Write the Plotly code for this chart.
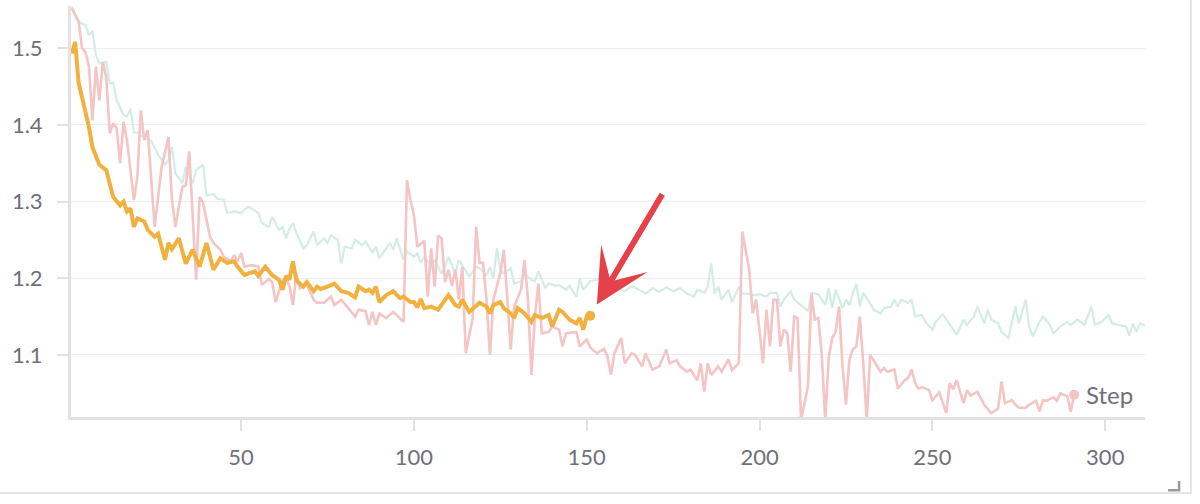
import plotly.graph_objects as go

# ---------------- data ----------------
teal_steps = [1,3,5,6,7,8,9,11,12,13,14,16,17,18,19,20,22,24,26,28,29,30,31,33,34,36,37,39,40,42,43,45,46,48,50,
              52,53,55,56,58,59,60,61,62,63,64,65,66,68,69,71,72,74,75,76,78,79,80,82,83,85,86,88,89,90,92,93,94,95,97,98,
              100,101,102,103,105,106,108,109,110,112,113,115,116,118,119,121,122,123,124,125,126,128,129,131,132,134,135,136,
              138,139,141,142,144,145,147,148,149,151,153,155,157,159,161,163,165,167,169,171,173,175,177,179,181,182,184,185,
              186,187,188,189,191,192,194,195,196,198,200,202,203,205,206,207,209,210,212,214,215,217,218,219,220,221,222,224,
              225,226,227,228,229,230,232,233,235,236,238,239,240,241,243,244,245,247,248,250,251,253,255,257,259,260,262,263,
              265,266,267,269,270,272,274,275,277,278,279,281,282,284,285,287,289,290,292,294,296,297,299,301,302,304,306,307,
              308,309,310,312]
teal_vals = [1.554,1.534,1.530,1.517,1.523,1.491,1.480,1.482,1.454,1.455,1.432,1.413,1.411,1.421,1.390,1.390,1.383,1.379,1.361,1.348,1.354,1.371,1.337,1.324,1.345,1.324,1.341,1.348,1.308,1.310,1.304,1.302,1.285,1.287,1.285,
             1.293,1.291,1.285,1.272,1.267,1.280,1.272,1.263,1.267,1.252,1.265,1.272,1.259,1.239,1.243,1.261,1.243,1.252,1.246,1.256,1.250,1.219,1.241,1.239,1.250,1.243,1.248,1.233,1.241,1.226,1.239,1.246,1.237,1.252,1.224,1.235,
             1.228,1.232,1.220,1.228,1.215,1.224,1.206,1.215,1.228,1.206,1.224,1.209,1.202,1.215,1.213,1.204,1.215,1.200,1.239,1.211,1.206,1.213,1.193,1.196,1.206,1.198,1.196,1.209,
             1.187,1.193,1.190,1.191,1.185,1.190,1.176,1.200,1.185,1.196,1.198,1.200,1.190,1.186,1.183,1.190,1.185,1.180,1.187,1.182,1.188,1.183,1.187,1.180,1.176,1.185,1.181,1.189,
             1.219,1.180,1.189,1.172,1.185,1.169,1.189,1.180,1.180,1.178,1.179,1.176,1.181,1.181,1.163,1.172,1.183,1.172,1.165,1.157,1.181,1.179,1.172,1.165,1.187,1.161,1.185,1.161,
             1.172,1.165,1.181,1.193,1.163,1.181,1.167,1.159,1.154,1.161,1.163,1.172,1.163,1.172,1.168,1.172,1.150,1.152,1.143,1.133,1.143,1.153,1.140,1.126,1.146,1.139,1.150,1.163,
             1.141,1.159,1.146,1.141,1.130,1.122,1.163,1.141,1.172,1.137,1.124,1.143,1.150,1.139,1.128,1.137,1.143,1.139,1.146,1.139,1.163,1.139,1.143,1.152,1.141,1.139,1.137,1.125,
             1.141,1.130,1.141,1.137]

pink_steps = [1,3,4,5,6,7,8,9,10,11,12,13,14,15,16,17,19,20,21,22,23,25,27,29,30,31,33,34,35,37,38,39,41,42,44,45,47,48,49,50,
              51,53,55,56,58,59,60,62,63,64,65,66,67,69,71,72,74,76,77,79,81,83,84,86,87,88,89,90,92,94,95,97,98,99,
              100,101,103,104,105,106,107,108,109,110,111,112,113,114,115,117,118,119,120,121,122,123,125,126,127,128,129,131,
              132,133,134,135,136,137,139,140,142,143,144,146,147,148,150,151,153,155,156,157,158,160,161,163,164,166,167,169,
              171,173,174,176,177,179,180,182,183,184,185,186,188,189,191,192,194,195,197,198,199,201,202,203,204,205,206,207,
              208,209,210,211,212,214,215,216,217,218,219,220,221,222,223,224,225,226,227,228,229,230,231,232,233,235,236,237,
              239,240,242,243,244,245,246,247,249,250,252,254,255,256,257,259,260,261,263,265,267,269,270,271,273,274,275,277,
              278,280,281,282,283,285,286,287,289,290,291]
pink_vals = [1.552,1.535,1.500,1.495,1.476,1.406,1.476,1.432,1.482,1.462,1.389,1.402,1.396,1.350,1.404,1.380,1.302,1.332,1.419,1.380,1.393,1.267,1.345,1.384,1.302,1.267,1.319,1.321,1.365,1.198,1.306,1.298,1.254,1.246,1.237,1.228,1.222,1.230,1.222,1.233,
             1.215,1.217,1.215,1.191,1.199,1.195,1.169,1.197,1.200,1.190,1.165,1.206,1.187,1.192,1.172,1.168,1.168,1.176,1.165,1.172,1.161,1.150,1.159,1.157,1.139,1.156,1.139,1.154,1.148,1.156,1.152,1.143,1.328,1.302,
             1.282,1.241,1.249,1.176,1.239,1.189,1.256,1.252,1.195,1.211,1.190,1.211,1.172,1.215,1.102,1.148,1.267,1.220,1.220,1.172,1.100,1.172,1.206,1.237,1.176,1.107,1.163,1.185,
             1.224,1.172,1.074,1.150,1.193,1.128,1.130,1.137,1.133,1.111,1.128,1.130,1.130,1.111,1.120,1.110,1.102,1.108,1.098,1.074,1.102,1.122,1.089,1.102,1.100,1.085,1.102,1.081,
             1.085,1.107,1.089,1.093,1.085,1.078,1.081,1.067,1.089,1.052,1.089,1.074,1.085,1.078,1.094,1.080,1.089,1.261,1.211,1.154,1.172,1.089,1.159,1.111,1.172,1.172,1.111,1.133,
             1.128,1.078,1.150,1.148,1.015,1.059,1.180,1.146,1.148,1.100,1.015,1.096,1.122,1.130,1.163,1.085,1.035,1.094,1.107,1.111,1.150,1.089,1.015,1.100,1.093,1.078,1.083,1.078,
             1.081,1.056,1.067,1.070,1.081,1.063,1.056,1.058,1.054,1.041,1.051,1.024,1.063,1.055,1.067,1.037,1.054,1.047,1.052,1.035,1.024,1.030,1.065,1.037,1.041,1.035,1.031,1.031,
             1.035,1.040,1.026,1.041,1.040,1.045,1.040,1.050,1.046,1.026,1.048]

orange_steps = [1,2,3,5,6,7,9,11,13,15,16,17,18,19,20,22,23,25,26,28,29,30,32,34,36,38,40,42,44,46,48,49,51,52,54,55,57,59,
                61,62,63,64,65,66,68,69,71,72,73,75,77,79,81,83,84,86,87,88,89,90,92,94,96,97,99,100,101,102,103,105,107,
                110,112,113,114,116,118,119,121,122,123,125,126,128,129,130,132,134,135,137,139,140,142,143,145,147,148,149,150,151]
orange_vals = [1.493,1.508,1.455,1.415,1.397,1.371,1.348,1.341,1.306,1.295,1.300,1.287,1.291,1.267,1.278,1.274,1.263,1.254,1.258,1.224,1.246,1.238,1.252,1.219,1.237,1.215,1.246,1.211,1.226,1.220,1.222,1.215,1.204,1.206,1.209,1.203,1.215,1.204,
               1.198,1.185,1.203,1.198,1.222,1.197,1.189,1.195,1.183,1.189,1.186,1.189,1.193,1.183,1.181,1.175,1.189,1.183,1.185,1.181,1.189,1.169,1.178,1.183,1.174,1.176,1.169,1.169,1.162,1.173,1.161,1.163,1.159,
               1.178,1.165,1.163,1.172,1.156,1.163,1.168,1.163,1.154,1.165,1.169,1.161,1.154,1.148,1.161,1.154,1.143,1.152,1.148,1.152,1.137,1.159,1.156,1.146,1.141,1.148,1.133,1.150,1.151]

x_ticks = [50, 100, 150, 200, 250, 300]
y_ticks = [1.1, 1.2, 1.3, 1.4, 1.5]
x_range = [0.8, 311.5]
y_range = [1.019, 1.555]

TEAL = "rgb(212,236,230)"
PINK = "rgb(245,196,196)"
ORANGE = "rgb(241,177,62)"
FONT = "Lato, 'Source Sans Pro', 'Noto Sans', sans-serif"
LABEL = "#6f6f7a"

fig = go.Figure()
for steps, vals, col, w in [(teal_steps, teal_vals, TEAL, 2.2),
                            (pink_steps, pink_vals, PINK, 2.6),
                            (orange_steps, orange_vals, ORANGE, 4)]:
    fig.add_trace(go.Scatter(x=steps, y=vals, mode="lines",
                             line=dict(color=col, width=w), cliponaxis=True,
                             hoverinfo="skip", showlegend=False))
    fig.add_trace(go.Scatter(x=[steps[-1]], y=[vals[-1]], mode="markers",
                             marker=dict(color=col, size=10), cliponaxis=False,
                             hoverinfo="skip", showlegend=False))

fig.update_layout(
    width=1200, height=504,
    margin=dict(l=71, r=55, t=6, b=87),
    paper_bgcolor="white", plot_bgcolor="white",
    font=dict(family=FONT, color=LABEL, size=22),
    xaxis=dict(range=x_range, tickvals=x_ticks, ticktext=[str(t) for t in x_ticks],
               showgrid=False, zeroline=False,
               showline=True, linecolor="#e2e2e2", linewidth=3,
               ticks="outside", ticklen=11, tickcolor="#e2e2e2", tickwidth=1.5,
               ticklabelstandoff=8),
    yaxis=dict(range=y_range, tickvals=y_ticks, ticktext=[f"{t:.1f}" for t in y_ticks],
               showgrid=True, gridcolor="#ececec", gridwidth=1.2, zeroline=False,
               showline=True, linecolor="#e2e2e2", linewidth=3,
               ticks="outside", ticklen=11, tickcolor="#e2e2e2", tickwidth=1.5,
               ticklabelstandoff=10),
    annotations=[
        dict(x=1.0, y=0.0, xref="paper", yref="paper", xanchor="right", yanchor="bottom",
             xshift=-10, yshift=6, text="Step", showarrow=False,
             font=dict(size=24, color=LABEL, family=FONT)),
        dict(x=orange_steps[-1], y=orange_vals[-1], xref="x", yref="y",
             ax=73, ay=-123, axref="pixel", ayref="pixel", text="", showarrow=True,
             standoff=13, arrowhead=3, arrowsize=1.5, arrowwidth=6, arrowcolor="#e4414a"),
    ],
    shapes=[
        dict(type="rect", xref="paper", yref="paper", x0=-0.08, x1=1.0428, y0=-0.185, y1=1.05,
             line=dict(color="#dcdcdc", width=1.5), fillcolor="rgba(0,0,0,0)", layer="below"),
        dict(type="path", xref="paper", yref="paper",
             path="M 1.0317,-0.156 L 1.0317,-0.178 L 1.0215,-0.178",
             line=dict(color="#9a9a9a", width=2.5)),
    ],
)

fig.write_html("out.html", config={"displayModeBar": False},
               post_script="document.body.style.margin='0';")
